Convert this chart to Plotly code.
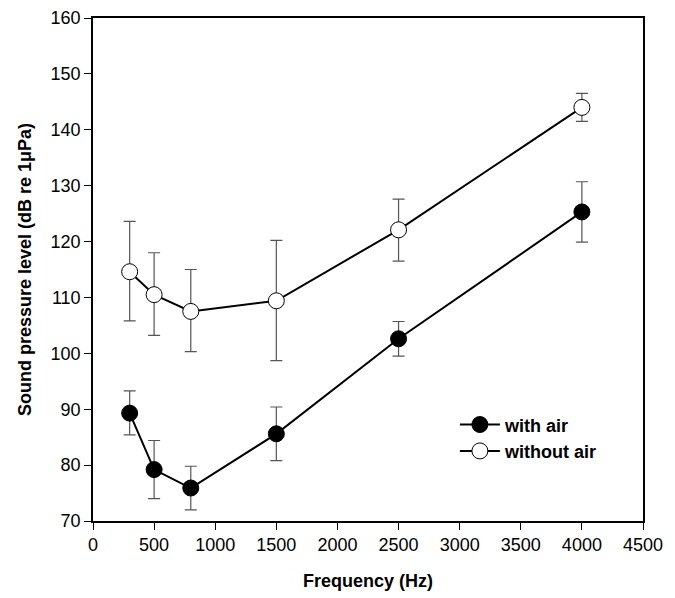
import plotly.graph_objects as go

# --- Data ---
freq = [300, 500, 800, 1500, 2500, 4000]

with_air = [89.3, 79.2, 75.9, 85.6, 102.6, 125.3]
with_air_hi = [93.3, 84.4, 79.8, 90.4, 105.7, 130.7]
with_air_lo = [85.4, 74.0, 72.0, 80.8, 99.5, 119.9]

without_air = [114.6, 110.5, 107.5, 109.4, 122.1, 144.0]
without_air_hi = [123.6, 118.0, 115.0, 120.2, 127.6, 146.5]
without_air_lo = [105.8, 103.2, 100.3, 98.7, 116.5, 141.5]


def err(v, hi, lo):
    return dict(type='data', symmetric=False,
                array=[h - m for h, m in zip(hi, v)],
                arrayminus=[m - l for m, l in zip(v, lo)],
                color='#555555', thickness=1.2, width=6)


fig = go.Figure()
fig.add_trace(go.Scatter(
    x=freq, y=with_air, name='with air', mode='lines+markers',
    line=dict(color='black', width=2),
    marker=dict(size=16, color='black', line=dict(color='black', width=1)),
    error_y=err(with_air, with_air_hi, with_air_lo)
))
fig.add_trace(go.Scatter(
    x=freq, y=without_air, name='without air', mode='lines+markers',
    line=dict(color='black', width=2),
    marker=dict(size=16, color='white', line=dict(color='black', width=1)),
    error_y=err(without_air, without_air_hi, without_air_lo)
))

# the page puts the figure 8px in from the corner, so size/margins allow for it
font = 'Liberation Sans, Arial'
title_font = dict(family=font, size=18, color='black', weight='bold')
fig.update_layout(
    width=667, height=590,
    margin=dict(l=85, r=32, t=10, b=77),
    paper_bgcolor='white', plot_bgcolor='white',
    font=dict(family=font, size=18, color='black'),
    showlegend=True,
    legend=dict(x=0.658, y=0.228, xanchor='left', yanchor='top',
                bgcolor='rgba(0,0,0,0)', tracegroupgap=0, itemwidth=40,
                font=dict(family=font, size=18, color='black', weight='bold')),
    xaxis=dict(
        range=[0, 4500], dtick=500, tick0=0, automargin=False,
        ticklabeloverflow='allow',
        showgrid=False, zeroline=False,
        showline=True, linecolor='black', linewidth=1.5, mirror=True,
        ticks='outside', ticklen=7, tickcolor='black',
        title=dict(text='Frequency (Hz)', standoff=20, font=title_font),
    ),
    yaxis=dict(
        range=[70, 160], dtick=10, automargin=False,
        ticklabeloverflow='allow',
        showgrid=False, zeroline=False,
        showline=True, linecolor='black', linewidth=1.5, mirror=True,
        ticks='outside', ticklen=7, tickcolor='black',
        title=dict(text='Sound pressure level (dB re 1\u03bcPa)', standoff=14, font=title_font),
    ),
)

fig.write_html("out.html")
